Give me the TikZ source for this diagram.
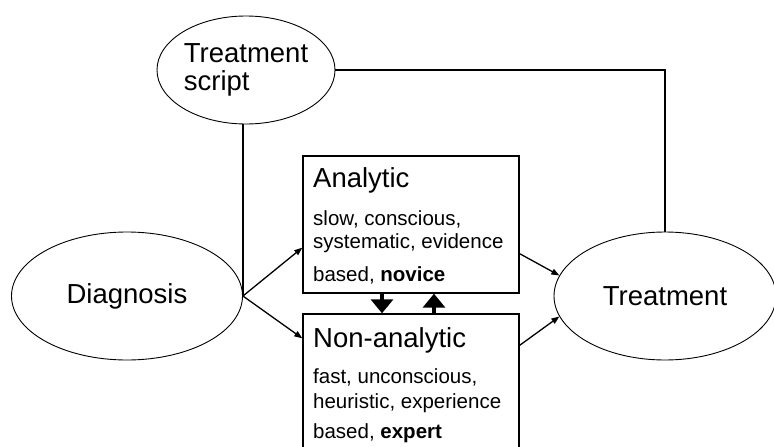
\documentclass[tikz,border=0pt]{standalone}
\usepackage{fontspec}
\setmainfont{Liberation Sans}
\usetikzlibrary{shapes.geometric,arrows.meta}
\begin{document}
\begin{tikzpicture}[x=1pt,y=-1pt,
  bigfont/.style={font=\fontsize{27.5}{27}\selectfont},
  smallfont/.style={font=\fontsize{20.5}{22}\selectfont},
  oval/.style={draw, ellipse, line width=0.9pt, inner sep=0pt, bigfont},
  boxnode/.style={draw, rectangle, line width=1.4pt, inner sep=0pt},
  txt/.style={anchor=base west, inner sep=0pt},
  link/.style={line width=1.3pt},
  smallarrow/.style={line width=1.3pt, -{Triangle[length=8pt,width=6pt]}},
  bigarrow/.style={line width=3.5pt, -{Triangle[length=14pt,width=22pt]}}
]
\useasboundingbox (0,0) rectangle (774,447);
\clip (0,0) rectangle (774,447);
\fill[white] (0,0) rectangle (774,447);

% ellipses
\node[oval, minimum width=178pt, minimum height=108pt, align=left] (ts) at (246,70)
  {Treatment\\[1.5pt]script};
\node[oval, minimum width=231pt, minimum height=128pt] (diag) at (127,296) {Diagnosis};
\node[oval, minimum width=222pt, minimum height=128pt] (treat) at (665,296) {Treatment};

% boxes
\node[boxnode, minimum width=216pt, minimum height=137pt] (ana) at (411,224.5) {};
\node[boxnode, minimum width=216pt, minimum height=146pt] (nonana) at (411,387) {};

% box texts
\node[txt, bigfont] (anat) at (313,187) {Analytic};
\node[txt, smallfont] (ana1) at (313,225) {slow, conscious,};
\node[txt, smallfont] (ana2) at (313,248) {systematic, evidence};
\node[txt, smallfont] (ana3) at (313,281) {based, \textbf{novice}};
\node[txt, bigfont] (nont) at (313,347) {Non-analytic};
\node[txt, smallfont] (non1) at (313,383) {fast, unconscious,};
\node[txt, smallfont] (non2) at (313,408) {heuristic, experience};
\node[txt, smallfont] (non3) at (313,438) {based, \textbf{expert}};

% connectors
\draw[link] (diag.east) -- (diag.east |- ts.south);
\draw[link] (ts.east) -| (treat.north);
\draw[smallarrow] (diag.east) -- ([yshift=46pt]ana.south west);
\draw[smallarrow] (diag.east) -- ([yshift=-25pt]nonana.north west);
\draw[smallarrow] ([yshift=40pt]ana.south east) -- (treat.169);
\draw[smallarrow] ([yshift=-32pt]nonana.north east) -- (treat.191);
\draw[bigarrow] ([xshift=-29pt]ana.south) -- ([xshift=-29pt]ana.south |- nonana.north);
\draw[bigarrow] ([xshift=23pt]nonana.north) -- ([xshift=23pt]nonana.north |- ana.south);
\end{tikzpicture}
\end{document}
